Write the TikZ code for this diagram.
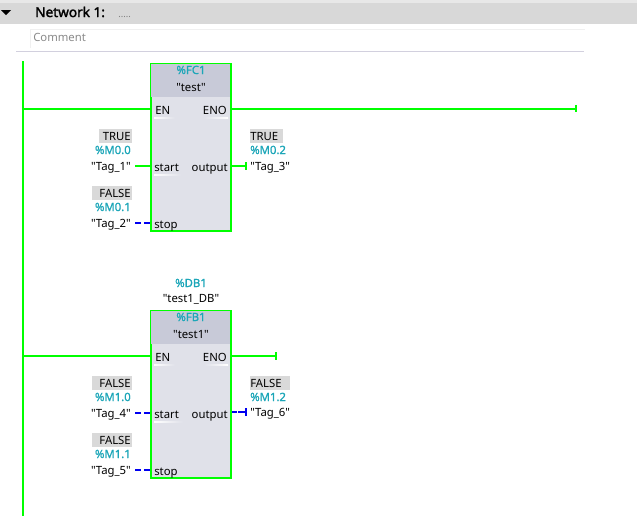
\documentclass[tikz,border=0pt]{standalone}
\usepackage{fontspec}
\newfontfamily\plainf{Noto Sans}
\newfontfamily\addrf{Noto Sans}[FakeBold=1.2]
\newfontfamily\headf{Noto Sans}[FakeBold=2]
\usetikzlibrary{arrows.meta}
\definecolor{wiregreen}{HTML}{00FF00}
\definecolor{wireblue}{HTML}{0000F0}
\definecolor{headgrey}{HTML}{C8CAD8}
\definecolor{bodygrey}{HTML}{E0E1E9}
\definecolor{bandgrey}{HTML}{D8D8D8}
\definecolor{topgrey}{HTML}{E8E8E8}
\definecolor{valgrey}{HTML}{D9D9D9}
\definecolor{addrteal}{HTML}{1CA6B8}
\definecolor{sepline}{HTML}{D2D0DE}
\definecolor{boxline}{HTML}{F0F0F0}
\definecolor{cmtgrey}{HTML}{8A8A8A}
\tikzset{
  txt/.style={inner sep=0pt,font=\plainf\fontsize{8.5pt}{9pt}\selectfont,text height=7.5pt,text depth=1.5pt},
  addr/.style={txt,text=addrteal,font=\addrf\fontsize{8.5pt}{9pt}\selectfont},
  tagl/.style={txt,anchor=east},
  tagr/.style={txt,anchor=west},
  pin/.style={txt},
  block/.style={draw=wiregreen,line width=1.5pt,fill=bodygrey,minimum width=60pt,inner sep=0pt},
  live/.style={draw=wiregreen,line width=1.5pt},
  off/.style={draw=wireblue,line width=1.5pt,dash pattern=on 4.5pt off 2.2pt},
  endbar/.style={-{Bar[width=5.6pt,length=1.5pt]}},
  glint/.style={left color=white,right color=bodygrey,draw=none},
}
\begin{document}
\begin{tikzpicture}[x=0.75pt,y=-0.75pt]
\useasboundingbox (0,0) rectangle (637,525);
% header
\fill[topgrey] (0,0) rectangle (637,3);
\fill[bandgrey] (0,3) rectangle (637,24);
\fill[black] (1,10) -- (11,10) -- (6,15) -- cycle;
\node[txt,anchor=west,font=\headf\fontsize{10.2pt}{11pt}\selectfont] (net) at (35,13) {Network 1:};
\node[txt,anchor=west,text=gray,font=\plainf\fontsize{7pt}{7pt}\selectfont] (dots) at (118,13.5) {.....};
\draw[boxline,line width=0.9pt] (30.5,48) -- (30.5,29.5) -- (585,29.5);
\node[txt,anchor=west,text=cmtgrey] (cmt) at (33,37) {Comment};
\draw[sepline,line width=0.75pt] (16,51.5) -- (584,51.5);
% rail
\coordinate (railtop) at (23,61);
\coordinate (railbot) at (23,516);
\draw[live] (railtop) -- (railbot);
% block 1
\node[block,minimum height=125.25pt] (fc) at (191,147.5) {};
\fill[headgrey] ([shift={(0.75pt,-0.75pt)}]fc.north west) rectangle (230,97);
\node[addr] (fcaddr) at (191,70) {\%FC1};
\node[txt] (fcname) at (191,87) {"test"};
\shade[glint] (154,117.5) rectangle (175,118.5);
\shade[glint,left color=bodygrey,right color=white] (204,117.5) rectangle (228,118.5);
\shade[glint] (154,174.5) rectangle (181,175.5);
\node[pin,anchor=west] (fcen) at (155,110) {EN};
\node[pin,anchor=east] (fceno) at (227,110) {ENO};
\node[pin,anchor=west] (fcstart) at (154,167) {start};
\node[pin,anchor=east] (fcout) at (228,167) {output};
\node[pin,anchor=west] (fcstop) at (154,224) {stop};
% block 2
\node[block,minimum height=125.25pt] (fb) at (191,394.5) {};
\fill[headgrey] ([shift={(0.75pt,-0.75pt)}]fb.north west) rectangle (230,344);
\node[addr] (dbaddr) at (191,283) {\%DB1};
\node[txt] (dbname) at (191,298) {"test1\_DB"};
\node[addr] (fbaddr) at (191,317) {\%FB1};
\node[txt] (fbname) at (191,334) {"test1"};
\shade[glint] (154,364.5) rectangle (175,365.5);
\shade[glint,left color=bodygrey,right color=white] (204,364.5) rectangle (228,365.5);
\shade[glint] (154,421.5) rectangle (183,422.5);
\node[pin,anchor=west] (fben) at (155,357) {EN};
\node[pin,anchor=east] (fbeno) at (227,357) {ENO};
\node[pin,anchor=west] (fbstart) at (154,414) {start};
\node[pin,anchor=east] (fbout) at (228,414) {output};
\node[pin,anchor=west] (fbstop) at (154,471) {stop};
% value backgrounds
\foreach \nm/\xa/\xb/\ya/\txt in {a/99/132/129/TRUE,b/92/132/186/FALSE,c/92/132/376/FALSE,d/92/132/433/FALSE}{
  \fill[valgrey] (\xa,\ya) rectangle (\xb,\ya+14);
  \node[tagl] (val\nm) at (131,\ya+7.5) {\txt};
}
\foreach \nm/\xa/\xb/\ya/\txt in {e/250/283/129/TRUE,f/250/290/376/FALSE}{
  \fill[valgrey] (\xa,\ya) rectangle (\xb,\ya+14);
  \node[tagr] (val\nm) at (250,\ya+7.5) {\txt};
}
% operands left
\node[addr,anchor=east] (m00) at (131,150) {\%M0.0};
\node[tagl] (tag1) at (131,166) {"Tag\_1"};
\node[addr,anchor=east] (m01) at (131,207) {\%M0.1};
\node[tagl] (tag2) at (131,223) {"Tag\_2"};
\node[addr,anchor=east] (m10) at (131,397) {\%M1.0};
\node[tagl] (tag4) at (131,413) {"Tag\_4"};
\node[addr,anchor=east] (m11) at (131,454) {\%M1.1};
\node[tagl] (tag5) at (131,470) {"Tag\_5"};
% operands right
\node[addr,anchor=west] (m02) at (250,150) {\%M0.2};
\node[tagr] (tag3) at (250,166) {"Tag\_3"};
\node[addr,anchor=west] (m12) at (250,397) {\%M1.2};
\node[tagr] (tag6) at (250,412) {"Tag\_6"};
% wires
\coordinate (fcend) at (577,108.5);
\coordinate (fbend) at (277,356);
\draw[live] (railtop |- fcend) -- (fc.west |- fcend);
\draw[live,endbar] (fc.east |- fcend) -- (fcend);
\draw[live] (railtop |- fbend) -- (fb.west |- fbend);
\draw[live,endbar] (fb.east |- fbend) -- (fbend);
\draw[live] ([xshift=3pt]tag1.east) -- (fc.west |- tag1);
\draw[off] ([xshift=3pt]tag2.east) -- (fc.west |- tag2);
\draw[off] ([xshift=3pt]tag4.east) -- (fb.west |- tag4);
\draw[off] ([xshift=3pt]tag5.east) -- (fb.west |- tag5);
\draw[live,endbar] (fc.east |- tag3) -- ([xshift=-2pt]tag3.west);
\draw[off,endbar,dash pattern=on 3.6pt off 1.2pt on 8pt off 0pt] (fb.east |- tag6) -- ([xshift=-2pt]tag6.west);
\end{tikzpicture}
\end{document}
